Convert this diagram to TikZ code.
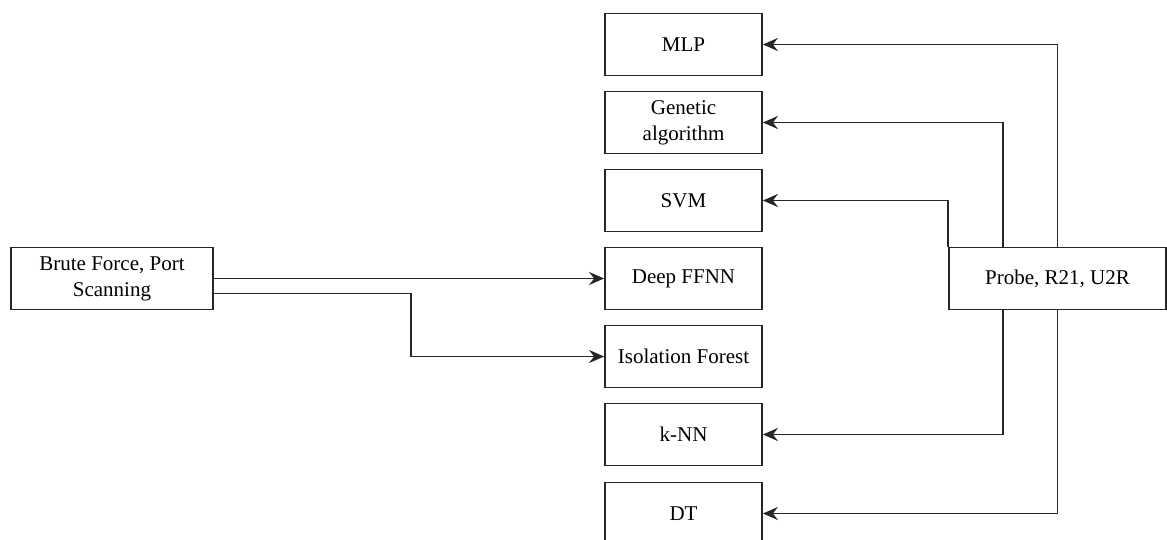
\documentclass[tikz,border=0pt]{standalone}
\usepackage{fontspec}
\setmainfont{Liberation Serif}
\usetikzlibrary{arrows.meta}
\begin{document}
\begin{tikzpicture}[x=1pt,y=-1pt,
  box/.style={draw=black!85, line width=1.8pt, fill=white, minimum width=157pt, minimum height=62pt, align=center, inner sep=2pt, font=\fontsize{21}{26}\selectfont},
  arr/.style={draw=black!85, line width=1.8pt, -{Stealth[length=15pt,width=13pt,inset=5pt]}}]
\useasboundingbox (0,0) rectangle (1167,540);
\clip (0,0) rectangle (1167,540);
\node[box] (mlp) at (683.5,44.5) {MLP};
\node[box] (gen) at (683.5,122.5) {Genetic\\algorithm};
\node[box] (svm) at (683.5,200.5) {SVM};
\node[box] (dff) at (683.5,278.5) {Deep FFNN};
\node[box] (iso) at (683.5,356.5) {Isolation Forest};
\node[box] (knn) at (683.5,434.5) {k-NN};
\node[box] (dt) at (683.5,513.5) {DT};
\node[box, minimum width=202pt] (lb) at (112,278.5) {Brute Force, Port\\Scanning};
\node[box, minimum width=217pt] (rb) at (1057.5,278.5) {Probe, R21, U2R};
\draw[arr] (lb.east) -- (dff.west);
\draw[arr] ([yshift=-15pt]lb.east) -- ++(197,0) |- (iso.west);
\draw[arr] (rb.north) |- (mlp.east);
\draw[arr] ([xshift=-54.5pt]rb.north) |- (gen.east);
\draw[arr] (rb.north west) |- (svm.east);
\draw[arr] ([xshift=-54.5pt]rb.south) |- (knn.east);
\draw[arr] (rb.south) |- (dt.east);
\end{tikzpicture}
\end{document}
